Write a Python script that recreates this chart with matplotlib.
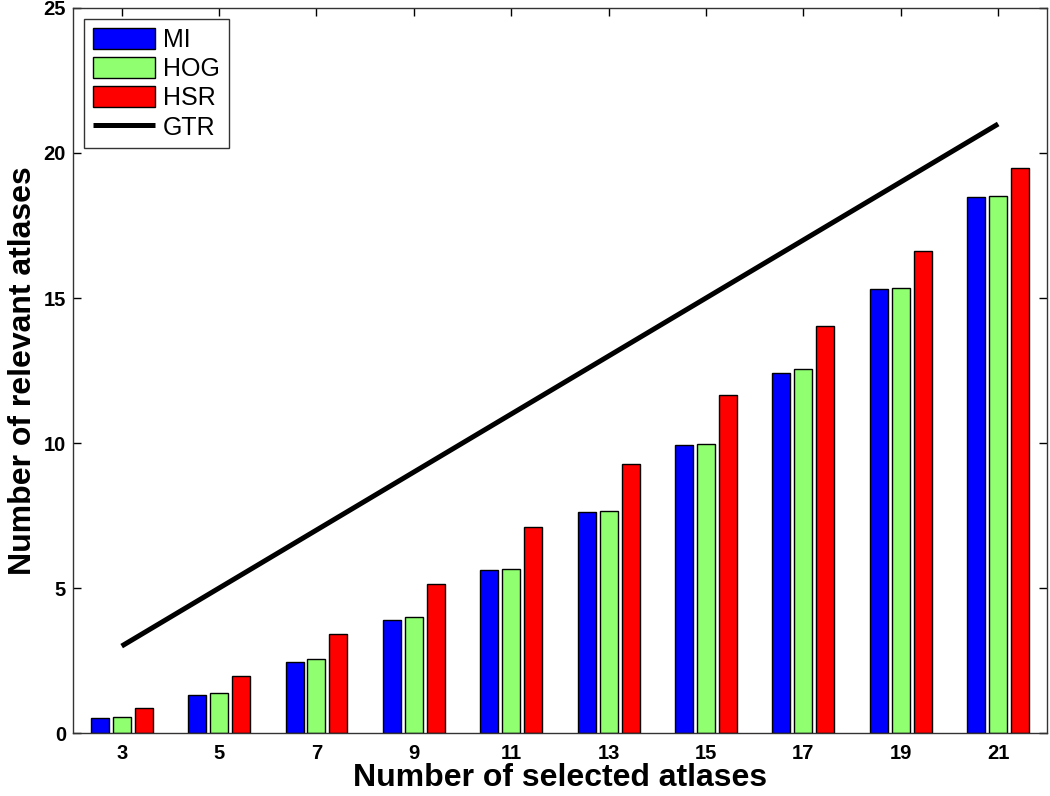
import numpy as np
import matplotlib
matplotlib.use("Agg")
import matplotlib.pyplot as plt

plt.rcParams['font.family'] = ['Liberation Sans', 'DejaVu Sans']

# number of selected atlases (x categories)
n_selected = [3, 5, 7, 9, 11, 13, 15, 17, 19, 21]

# number of relevant atlases per method
mi_vals  = [0.53, 1.32, 2.44, 3.90, 5.63, 7.64, 9.93, 12.43, 15.31, 18.50]
hog_vals = [0.55, 1.40, 2.55, 4.01, 5.67, 7.66, 9.97, 12.54, 15.36, 18.53]
hsr_vals = [0.86, 1.98, 3.41, 5.14, 7.10, 9.28, 11.64, 14.04, 16.61, 19.49]
gtr_vals = [3, 21]
gtr_x    = [3, 21]

series = [
    ('MI',  mi_vals,  '#0000ff'),
    ('HOG', hog_vals, '#90ff70'),
    ('HSR', hsr_vals, '#ff0000'),
]

fig = plt.figure(figsize=(10.5, 7.96), dpi=100)
ax = fig.add_axes([0.0695, 0.079, 0.9275, 0.911])

x = np.array(n_selected, dtype=float)
pitch = 0.45
width = 0.37
handles = []
for i, (name, vals, col) in enumerate(series):
    b = ax.bar(x + (i - 1) * pitch, vals, width=width, color=col,
               edgecolor='black', linewidth=1.0, label=name, zorder=2)
    handles.append(b)

line, = ax.plot(gtr_x, gtr_vals, color='black', linewidth=3.6, label='GTR',
                solid_capstyle='butt', zorder=3)
handles.append(line)

ax.set_xlim(2, 22)
ax.set_ylim(0, 25)
ax.set_xticks(n_selected)
ax.set_yticks([0, 5, 10, 15, 20, 25])
ax.tick_params(direction='in', top=True, right=True, length=6, width=1,
               labelsize=14.5)
ax.tick_params(axis='x', pad=8)
ax.tick_params(axis='y', pad=5)
for lab in ax.get_xticklabels() + ax.get_yticklabels():
    lab.set_fontweight('bold')
for sp in ax.spines.values():
    sp.set_linewidth(1.0)
    sp.set_color('#333333')

ax.set_xlabel('Number of selected atlases', fontsize=23, fontweight='bold',
              labelpad=0)
ax.set_ylabel('Number of relevant atlases', fontsize=23, fontweight='bold',
              labelpad=4)

leg = ax.legend(handles=handles, loc='upper left', fontsize=18, frameon=True,
                fancybox=False, edgecolor='black', handlelength=2.5,
                handleheight=0.92, borderaxespad=0.45, labelspacing=0.2,
                handletextpad=0.3, borderpad=0.35)
leg.get_frame().set_linewidth(1.0)

fig.savefig('out.png', dpi=100)
